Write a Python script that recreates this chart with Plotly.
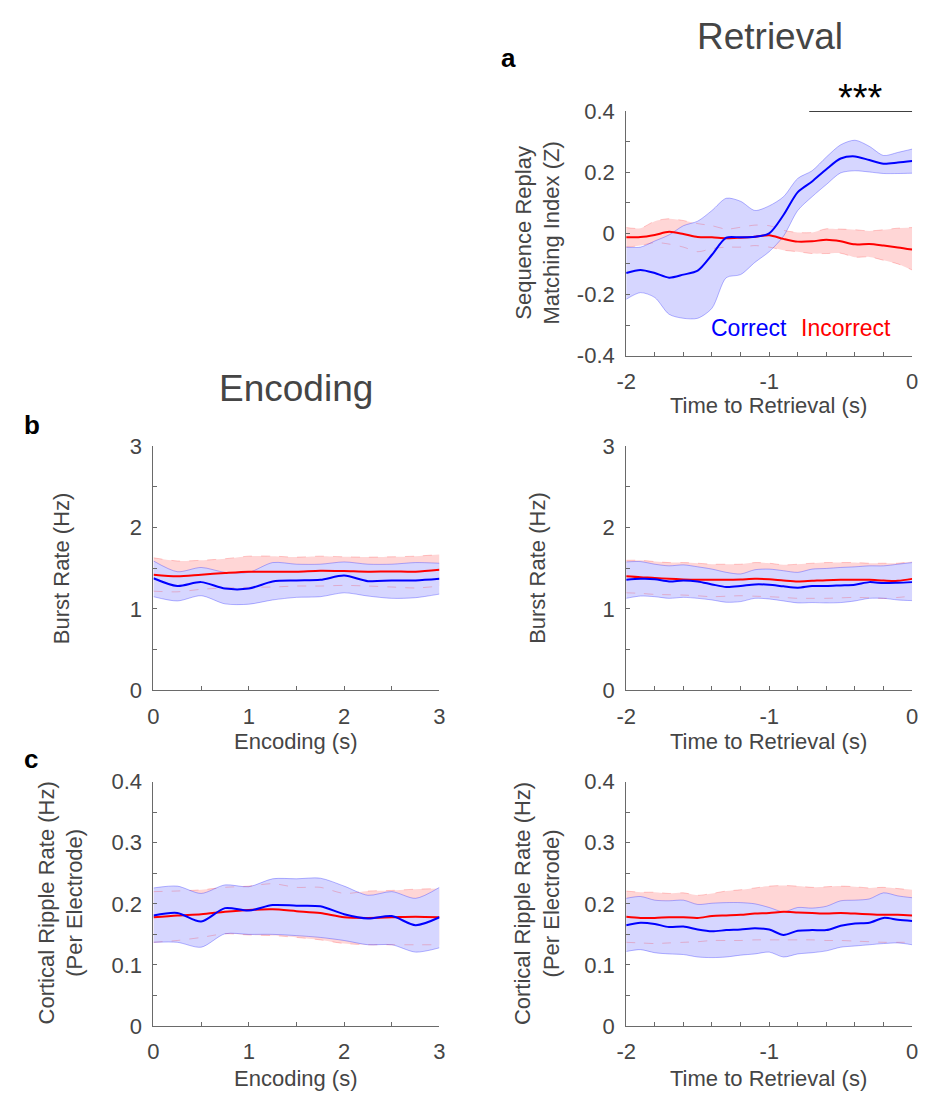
import plotly.graph_objects as go

# ---------------- DATA ----------------
# Panel a: Sequence replay matching index (retrieval)
a_time = [-2.0, -1.9, -1.8, -1.7, -1.6, -1.5, -1.4, -1.3, -1.2, -1.1, -1.0,
          -0.9, -0.8, -0.7, -0.6, -0.5, -0.4, -0.3, -0.2, -0.1, 0.0]
a_correct_mean = [-0.13, -0.12, -0.13, -0.145, -0.135, -0.122, -0.07, -0.014, -0.013, -0.011, 0.0,
                  0.06, 0.135, 0.17, 0.21, 0.245, 0.252, 0.24, 0.228, 0.232, 0.237]
a_correct_upper = [-0.045, -0.045, -0.025, -0.005, 0.025, 0.04, 0.075, 0.115, 0.105, 0.075, 0.09,
                   0.12, 0.18, 0.205, 0.25, 0.29, 0.305, 0.285, 0.255, 0.265, 0.276]
a_correct_lower = [-0.216, -0.194, -0.21, -0.265, -0.278, -0.278, -0.245, -0.145, -0.135, -0.095, -0.06,
                   -0.009, 0.075, 0.12, 0.16, 0.198, 0.205, 0.201, 0.196, 0.196, 0.197]
a_incorrect_mean = [-0.013, -0.012, -0.005, 0.005, -0.002, -0.012, -0.013, -0.016, -0.014, -0.011, -0.006,
                    -0.018, -0.027, -0.026, -0.021, -0.026, -0.036, -0.035, -0.04, -0.046, -0.053]
a_incorrect_upper = [0.019, 0.017, 0.04, 0.048, 0.042, 0.032, 0.025, 0.014, 0.02, 0.027, 0.025,
                     0.01, 0.003, 0.003, 0.015, 0.014, 0.012, 0.008, 0.012, 0.017, 0.019]
a_incorrect_lower = [-0.045, -0.04, -0.03, -0.035, -0.045, -0.06, -0.05, -0.045, -0.045, -0.04, -0.045,
                     -0.055, -0.06, -0.066, -0.066, -0.065, -0.078, -0.077, -0.088, -0.1, -0.12]
a_sig_start = -0.72
a_sig_end = 0.0
a_sig_label = "***"

# Panel b left: burst rate during encoding
enc_time = [0.0, 0.25, 0.5, 0.75, 1.0, 1.25, 1.5, 1.75, 2.0, 2.25, 2.5, 2.75, 3.0]
b_enc_correct_mean = [1.376, 1.28, 1.328, 1.249, 1.249, 1.336, 1.348, 1.356, 1.408, 1.34, 1.348, 1.348, 1.368]
b_enc_correct_upper = [1.588, 1.456, 1.508, 1.448, 1.448, 1.568, 1.548, 1.548, 1.576, 1.548, 1.548, 1.568, 1.56]
b_enc_correct_lower = [1.149, 1.097, 1.161, 1.061, 1.057, 1.109, 1.141, 1.149, 1.197, 1.157, 1.129, 1.137, 1.181]
b_enc_incorrect_mean = [1.42, 1.40, 1.42, 1.44, 1.456, 1.456, 1.456, 1.468, 1.464, 1.456, 1.46, 1.456, 1.48]
b_enc_incorrect_upper = [1.627, 1.588, 1.596, 1.615, 1.647, 1.647, 1.635, 1.647, 1.639, 1.635, 1.639, 1.647, 1.667]
b_enc_incorrect_lower = [1.217, 1.209, 1.24, 1.256, 1.264, 1.268, 1.28, 1.28, 1.288, 1.28, 1.268, 1.256, 1.28]

# Panel b right: burst rate before retrieval
ret_time = a_time
b_ret_correct_mean = [1.356, 1.368, 1.364, 1.336, 1.348, 1.336, 1.30, 1.268, 1.28, 1.30, 1.296,
                      1.276, 1.26, 1.28, 1.28, 1.288, 1.296, 1.328, 1.316, 1.32, 1.328]
b_ret_correct_upper = [1.576, 1.58, 1.548, 1.528, 1.54, 1.516, 1.488, 1.448, 1.428, 1.48, 1.488,
                       1.468, 1.448, 1.488, 1.496, 1.508, 1.516, 1.528, 1.528, 1.548, 1.568]
b_ret_correct_lower = [1.129, 1.157, 1.149, 1.129, 1.141, 1.129, 1.109, 1.081, 1.089, 1.129, 1.121,
                       1.097, 1.073, 1.077, 1.073, 1.077, 1.097, 1.129, 1.129, 1.109, 1.101]
b_ret_incorrect_mean = [1.40, 1.388, 1.38, 1.368, 1.36, 1.356, 1.356, 1.356, 1.36, 1.368, 1.364,
                        1.348, 1.336, 1.344, 1.352, 1.356, 1.356, 1.356, 1.348, 1.344, 1.368]
b_ret_incorrect_upper = [1.596, 1.596, 1.58, 1.568, 1.568, 1.56, 1.548, 1.548, 1.548, 1.568, 1.56,
                         1.54, 1.548, 1.56, 1.568, 1.568, 1.568, 1.56, 1.56, 1.56, 1.58]
b_ret_incorrect_lower = [1.197, 1.19, 1.177, 1.173, 1.169, 1.16, 1.149, 1.155, 1.161, 1.155, 1.149,
                         1.14, 1.129, 1.129, 1.129, 1.135, 1.141, 1.135, 1.129, 1.14, 1.157]

# Panel c left: cortical ripple rate during encoding
c_enc_correct_mean = [0.181, 0.185, 0.171, 0.193, 0.189, 0.198, 0.197, 0.196, 0.183, 0.176, 0.18, 0.165, 0.178]
c_enc_correct_upper = [0.226, 0.229, 0.217, 0.231, 0.228, 0.241, 0.241, 0.242, 0.229, 0.214, 0.22, 0.209, 0.227]
c_enc_correct_lower = [0.137, 0.137, 0.129, 0.151, 0.15, 0.15, 0.148, 0.145, 0.14, 0.133, 0.133, 0.121, 0.128]
c_enc_incorrect_mean = [0.178, 0.181, 0.183, 0.187, 0.19, 0.191, 0.188, 0.185, 0.178, 0.177, 0.178, 0.179, 0.178]
c_enc_incorrect_upper = [0.22, 0.221, 0.223, 0.227, 0.229, 0.233, 0.227, 0.227, 0.217, 0.221, 0.222, 0.224, 0.225]
c_enc_incorrect_lower = [0.137, 0.14, 0.145, 0.151, 0.149, 0.148, 0.145, 0.141, 0.135, 0.133, 0.133, 0.133, 0.133]

# Panel c right: cortical ripple rate before retrieval
c_ret_correct_mean = [0.165, 0.169, 0.167, 0.162, 0.163, 0.158, 0.155, 0.157, 0.158, 0.16, 0.158,
                      0.149, 0.156, 0.157, 0.157, 0.164, 0.168, 0.169, 0.177, 0.174, 0.172]
c_ret_correct_upper = [0.209, 0.212, 0.206, 0.205, 0.206, 0.199, 0.201, 0.202, 0.202, 0.2, 0.194,
                       0.187, 0.194, 0.193, 0.196, 0.205, 0.206, 0.208, 0.218, 0.213, 0.21]
c_ret_correct_lower = [0.122, 0.125, 0.12, 0.118, 0.117, 0.113, 0.112, 0.113, 0.116, 0.118, 0.121,
                       0.113, 0.118, 0.12, 0.123, 0.129, 0.131, 0.133, 0.135, 0.136, 0.133]
c_ret_incorrect_mean = [0.179, 0.177, 0.177, 0.178, 0.178, 0.177, 0.18, 0.181, 0.182, 0.184, 0.185,
                        0.187, 0.186, 0.185, 0.184, 0.185, 0.184, 0.183, 0.182, 0.182, 0.181]
c_ret_incorrect_upper = [0.221, 0.219, 0.219, 0.217, 0.218, 0.214, 0.217, 0.221, 0.223, 0.226, 0.229,
                         0.23, 0.229, 0.227, 0.228, 0.229, 0.228, 0.226, 0.227, 0.225, 0.223]
c_ret_incorrect_lower = [0.137, 0.136, 0.135, 0.136, 0.137, 0.138, 0.14, 0.14, 0.14, 0.141, 0.141,
                         0.141, 0.141, 0.141, 0.14, 0.14, 0.139, 0.138, 0.137, 0.137, 0.137]

# Tick labels
ret_xtick_vals = [-2.0, -1.8, -1.6, -1.4, -1.2, -1.0, -0.8, -0.6, -0.4, -0.2, 0.0]
ret_xtick_text = ["-2", "", "", "", "", "-1", "", "", "", "", "0"]
enc_xtick_vals = [0.0, 0.5, 1.0, 1.5, 2.0, 2.5, 3.0]
enc_xtick_text = ["0", "", "1", "", "2", "", "3"]
a_ytick_vals = [-0.4, -0.3, -0.2, -0.1, 0.0, 0.1, 0.2, 0.3, 0.4]
a_ytick_text = ["-0.4", "", "-0.2", "", "0", "", "0.2", "", "0.4"]
b_ytick_vals = [0.0, 0.5, 1.0, 1.5, 2.0, 2.5, 3.0]
b_ytick_text = ["0", "", "1", "", "2", "", "3"]
c_ytick_vals = [0.0, 0.05, 0.1, 0.15, 0.2, 0.25, 0.3, 0.35, 0.4]
c_ytick_text = ["0", "", "0.1", "", "0.2", "", "0.3", "", "0.4"]

# ---------------- STYLE ----------------
W, H = 928, 1104
FONT = "Liberation Sans, Arial, Helvetica, sans-serif"
TXT = "#454545"
AXC = "#6a6a6a"
BLUE = "#0000ff"
RED = "#ff0000"
BLUE_FILL = "rgb(214,214,255)"
RED_FILL = "rgb(255,214,214)"


def px(x):
    return x / W


def py(y):
    return 1 - y / H


fig = go.Figure()

# axis domains in pixels (left, right, top, bottom)
panels = {
    "a": dict(xa="x", ya="y", box=(627, 918, 101.5, 351.5)),
    "bl": dict(xa="x2", ya="y2", box=(146, 437, 444, 694)),
    "br": dict(xa="x3", ya="y3", box=(627, 918, 444, 694)),
    "cl": dict(xa="x4", ya="y4", box=(146, 437, 787.5, 1037.5)),
    "cr": dict(xa="x5", ya="y5", box=(627, 918, 787.5, 1037.5)),
}


def add_panel(key, t, cm, cu, cl, im, iu, il):
    xa, ya = panels[key]["xa"], panels[key]["ya"]
    common = dict(xaxis=xa, yaxis=ya, showlegend=False, hoverinfo="skip")
    sp = dict(shape="spline", smoothing=0.8)
    # incorrect band
    fig.add_trace(go.Scatter(x=t, y=iu, mode="lines", line=dict(width=0, **sp), **common))
    fig.add_trace(go.Scatter(x=t, y=il, mode="lines", line=dict(width=0, **sp),
                             fill="tonexty", fillcolor=RED_FILL, **common))
    # correct band
    fig.add_trace(go.Scatter(x=t, y=cu, mode="lines", line=dict(width=0, **sp), **common))
    fig.add_trace(go.Scatter(x=t, y=cl, mode="lines", line=dict(width=0, **sp),
                             fill="tonexty", fillcolor=BLUE_FILL, **common))
    # band edges
    for e in (iu, il):
        fig.add_trace(go.Scatter(x=t, y=e, mode="lines",
                                 line=dict(color="rgba(255,0,0,0.2)", width=1, dash="dash", **sp), **common))
    for e in (cu, cl):
        fig.add_trace(go.Scatter(x=t, y=e, mode="lines",
                                 line=dict(color="rgba(0,0,255,0.28)", width=1, **sp), **common))
    # means
    fig.add_trace(go.Scatter(x=t, y=im, mode="lines", line=dict(color=RED, width=2, **sp), **common))
    fig.add_trace(go.Scatter(x=t, y=cm, mode="lines", line=dict(color=BLUE, width=2, **sp), **common))


add_panel("a", a_time, a_correct_mean, a_correct_upper, a_correct_lower,
          a_incorrect_mean, a_incorrect_upper, a_incorrect_lower)
add_panel("bl", enc_time, b_enc_correct_mean, b_enc_correct_upper, b_enc_correct_lower,
          b_enc_incorrect_mean, b_enc_incorrect_upper, b_enc_incorrect_lower)
add_panel("br", ret_time, b_ret_correct_mean, b_ret_correct_upper, b_ret_correct_lower,
          b_ret_incorrect_mean, b_ret_incorrect_upper, b_ret_incorrect_lower)
add_panel("cl", enc_time, c_enc_correct_mean, c_enc_correct_upper, c_enc_correct_lower,
          c_enc_incorrect_mean, c_enc_incorrect_upper, c_enc_incorrect_lower)
add_panel("cr", ret_time, c_ret_correct_mean, c_ret_correct_upper, c_ret_correct_lower,
          c_ret_incorrect_mean, c_ret_incorrect_upper, c_ret_incorrect_lower)

tickfont = dict(family=FONT, size=22, color=TXT)
axis_common = dict(showline=True, linecolor=AXC, linewidth=1, showgrid=False, zeroline=False,
                   ticks="inside", ticklen=4, tickcolor=AXC, tickwidth=1, tickfont=tickfont,
                   tickmode="array", fixedrange=True)

layout = dict(width=W, height=H, margin=dict(l=0, r=0, t=0, b=0),
              paper_bgcolor="white", plot_bgcolor="white", showlegend=False)

specs = {
    "a": (ret_xtick_vals, ret_xtick_text, [-2, 0], a_ytick_vals, a_ytick_text, [-0.4, 0.4]),
    "bl": (enc_xtick_vals, enc_xtick_text, [0, 3], b_ytick_vals, b_ytick_text, [0, 3]),
    "br": (ret_xtick_vals, ret_xtick_text, [-2, 0], b_ytick_vals, b_ytick_text, [0, 3]),
    "cl": (enc_xtick_vals, enc_xtick_text, [0, 3], c_ytick_vals, c_ytick_text, [0, 0.4]),
    "cr": (ret_xtick_vals, ret_xtick_text, [-2, 0], c_ytick_vals, c_ytick_text, [0, 0.4]),
}
for key, (xv, xt, xr, yv, yt, yr) in specs.items():
    l, r, t, b = panels[key]["box"]
    xname = "xaxis" + panels[key]["xa"][1:]
    yname = "yaxis" + panels[key]["ya"][1:]
    layout[xname] = dict(domain=[px(l), px(r)], range=xr, tickvals=xv, ticktext=xt,
                         anchor=panels[key]["ya"], ticklabelstandoff=6, **axis_common)
    layout[yname] = dict(domain=[py(b), py(t)], range=yr, tickvals=yv, ticktext=yt,
                         anchor=panels[key]["xa"], ticklabelstandoff=6, **axis_common)

fig.update_layout(**layout)

# significance bar
fig.add_shape(type="line", xref="x", yref="y", x0=a_sig_start, x1=a_sig_end, y0=0.4, y1=0.4,
              line=dict(color="black", width=1.5))

ann = []


def text(x, y, s, size, color=TXT, angle=0, bold=False):
    if bold:
        s = "<b>" + s + "</b>"
    ann.append(dict(x=px(x), y=py(y), xref="paper", yref="paper", text=s, showarrow=False,
                    xanchor="center", yanchor="middle", textangle=angle,
                    font=dict(family=FONT, size=size, color=color)))


text(773, 25, "Retrieval", 37)
text(291, 385, "Encoding", 37)
text(507, 47, "a", 26, "black", bold=True)
text(22, 423, "b", 26, "black", bold=True)
text(21, 764, "c", 26, "black", bold=True)

text(772, 403, "Time to Retrieval (s)", 22)
text(291, 746, "Encoding (s)", 22)
text(772, 746, "Time to Retrieval (s)", 22)
text(291, 1091, "Encoding (s)", 22)
text(772, 1091, "Time to Retrieval (s)", 22)

text(537, 226, "Sequence Replay<br>Matching Index (Z)", 22, angle=-90)
text(52, 569, "Burst Rate (Hz)", 22, angle=-90)
text(536, 569, "Burst Rate (Hz)", 22, angle=-90)
text(52, 912, "Cortical Ripple Rate (Hz)<br>(Per Electrode)", 22, angle=-90)
text(537, 912, "Cortical Ripple Rate (Hz)<br>(Per Electrode)", 22, angle=-90)

text(752, 323, "Correct", 23, BLUE)
text(851, 323, "Incorrect", 23, RED)

ann.append(dict(x=(a_sig_start + a_sig_end) / 2, y=py(88), xref="x", yref="paper", text=a_sig_label,
                showarrow=False, xanchor="center", yanchor="middle",
                font=dict(family=FONT, size=38, color="black")))

fig.update_layout(annotations=ann)
fig.write_html("out.html")
